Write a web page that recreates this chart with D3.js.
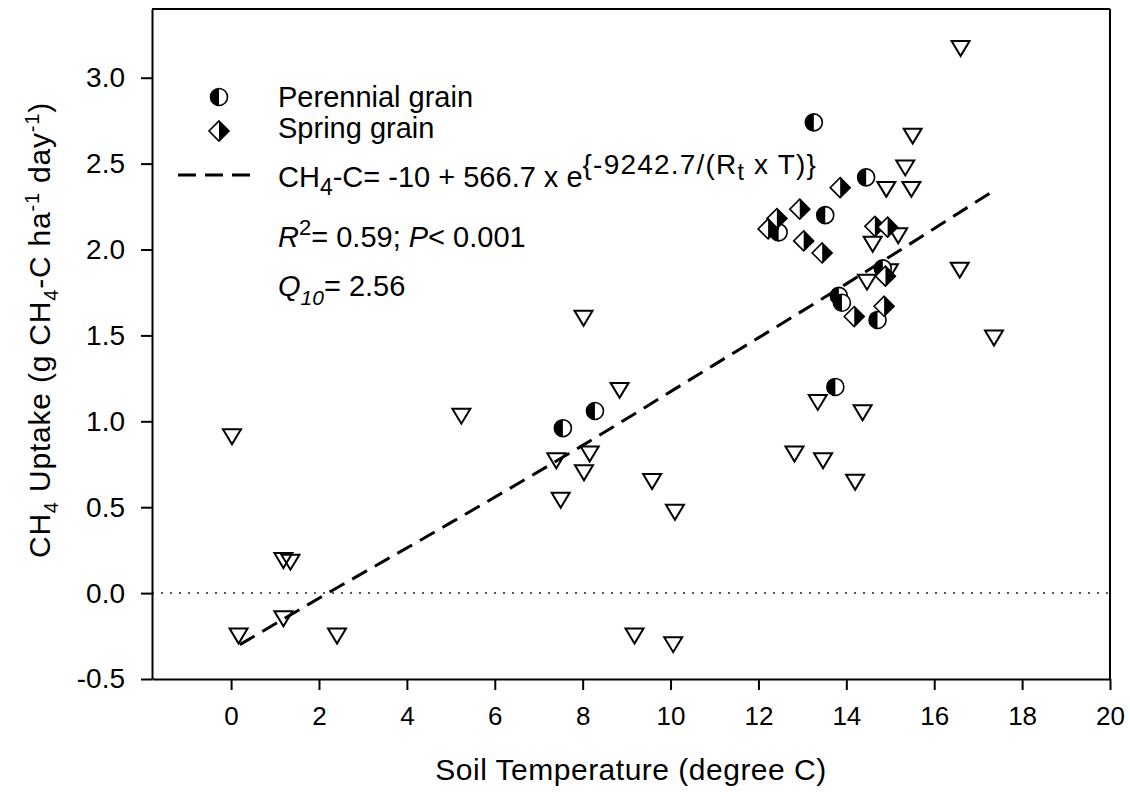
<!DOCTYPE html>
<html>
<head>
<meta charset="utf-8">
<script src="https://cdn.jsdelivr.net/npm/d3@7"></script>
<style>
body { margin: 0; background: #fff; }
svg { display: block; font-family: "Liberation Sans", Arial, sans-serif; }
.axis path, .axis line { stroke: #000; stroke-width: 2; }
.axis text { fill: #000; }
</style>
</head>
<body>
<div id="chart"></div>
<script>
// open triangles (no legend entry)
const triTemp   = [0.02, 0.17, 1.19, 1.19, 1.35, 2.41, 5.24, 7.40, 7.50, 8.02, 8.84, 8.16, 8.03, 9.58, 10.10, 9.18, 10.06,
                   12.82, 13.35, 13.47, 14.37, 14.20, 17.36, 16.60, 15.51, 15.34, 14.91, 15.48, 15.18, 14.60, 16.58, 14.97, 14.47];
const triUptake = [0.91, -0.25, -0.15, 0.19, 0.18, -0.25, 1.03, 0.77, 0.54, 1.60, 1.18, 0.81, 0.70, 0.65, 0.47, -0.25, -0.30,
                   0.81, 1.11, 0.77, 1.05, 0.645, 1.485, 3.17, 2.66, 2.475, 2.35, 2.35, 2.08, 2.03, 1.88, 1.87, 1.81];

// perennial grain
const perTemp   = [7.55, 8.28, 13.26, 14.45, 13.52, 12.46, 14.83, 13.83, 13.90, 14.71, 13.75];
const perUptake = [0.96, 1.06, 2.74, 2.42, 2.20, 2.10, 1.89, 1.73, 1.69, 1.59, 1.20];

// spring grain
const sprTemp   = [13.86, 12.94, 12.42, 12.22, 13.03, 13.45, 14.65, 14.94, 14.89, 14.18, 14.86];
const sprUptake = [2.36, 2.235, 2.18, 2.12, 2.05, 1.98, 2.135, 2.13, 1.845, 1.61, 1.67];

// fitted curve
const fitTemp   = [0.2, 2, 5, 8, 11, 14, 17.4];
const fitUptake = [-0.30, -0.03, 0.41, 0.86, 1.33, 1.80, 2.35];

const xTicks = [0, 2, 4, 6, 8, 10, 12, 14, 16, 18, 20];
const yTicks = [-0.5, 0, 0.5, 1.0, 1.5, 2.0, 2.5, 3.0];

const margin = {top: 9, right: 20, bottom: 113, left: 152};
const width = 1130 - margin.left - margin.right;
const height = 792 - margin.top - margin.bottom;

const xScale = d3.scaleLinear().domain([-1.8, 20]).range([0, width]);
const yScale = d3.scaleLinear().domain([-0.5, 3.4]).range([height, 0]);

const svg = d3.select("#chart").append("svg")
    .attr("width", 1130)
    .attr("height", 792);

const plot = svg.append("g")
    .attr("transform", `translate(${margin.left},${margin.top})`);

// zero reference line
plot.append("line")
    .attr("x1", 0).attr("x2", width)
    .attr("y1", yScale(0)).attr("y2", yScale(0))
    .attr("stroke", "#222")
    .attr("stroke-width", 1.5)
    .attr("stroke-dasharray", "2,7");

// axes
const xAxis = d3.axisBottom(xScale)
    .tickValues(xTicks)
    .tickSize(11)
    .tickSizeOuter(0)
    .tickPadding(17)
    .tickFormat(d => d);

const yAxis = d3.axisLeft(yScale)
    .tickValues(yTicks)
    .tickSize(11)
    .tickSizeOuter(0)
    .tickPadding(16)
    .tickFormat(d => d.toFixed(1));

plot.append("g")
    .attr("class", "axis x-axis")
    .attr("transform", `translate(0,${height})`)
    .call(xAxis)
    .selectAll("text")
    .style("font-size", "26px");

plot.append("g")
    .attr("class", "axis y-axis")
    .call(yAxis)
    .selectAll("text")
    .style("font-size", "28px");

// top & right frame
plot.append("line").attr("x1", 0).attr("x2", width).attr("y1", 0).attr("y2", 0)
    .attr("stroke", "#000").attr("stroke-width", 2);
plot.append("line").attr("x1", width).attr("x2", width).attr("y1", 0).attr("y2", height)
    .attr("stroke", "#000").attr("stroke-width", 2);

// rich text helper: parts = [{t, size, dy, italic, ls}]
function richText(parent, parts, size) {
    const txt = parent.append("text").style("font-size", size + "px").attr("fill", "#000");
    parts.forEach(p => {
        const ts = txt.append("tspan").text(p.t);
        if (p.size) ts.style("font-size", p.size + "px");
        if (p.dy) ts.attr("dy", p.dy);
        if (p.italic) ts.style("font-style", "italic");
        if (p.ls) ts.style("letter-spacing", p.ls + "px");
    });
    return txt;
}

// axis titles
richText(plot, [{t: "Soil Temperature (degree C)"}], 30)
    .attr("x", width / 2)
    .attr("y", height + 101)
    .attr("text-anchor", "middle")
    .style("letter-spacing", "0.5px");

const yTitle = plot.append("g")
    .attr("transform", `translate(${50 - margin.left},${330 - margin.top}) rotate(-90)`);
richText(yTitle, [
    {t: "CH"}, {t: "4", size: 20, dy: 8}, {t: " Uptake (g CH", dy: -8}, {t: "4", size: 20, dy: 8},
    {t: "-C ha", dy: -8}, {t: "-1", size: 20, dy: -11}, {t: " day", dy: 11}, {t: "-1", size: 20, dy: -11},
    {t: ")", dy: 11}
], 30)
    .attr("text-anchor", "middle")
    .style("letter-spacing", "0.8px");

// markers
const tri = "M-9,-7.5L9,-7.5L0,7.5Z";
const cr = 8.5;
const halfCircle = `M0,${-cr}A${cr},${cr} 0 0 0 0,${cr}Z`;
const dia = "M0,-10L10,0L0,10L-10,0Z";
const diaRight = "M0,-10L10,0L0,10Z";

function drawCircle(g) {
    g.append("circle").attr("r", cr).attr("fill", "#fff").attr("stroke", "#000").attr("stroke-width", 1.6);
    g.append("path").attr("d", halfCircle).attr("fill", "#000");
}
function drawDiamond(g) {
    g.append("path").attr("d", dia).attr("fill", "#fff").attr("stroke", "#000").attr("stroke-width", 1.6);
    g.append("path").attr("d", diaRight).attr("fill", "#000");
}

plot.selectAll(".tri")
    .data(triTemp.map((t, i) => [t, triUptake[i]]))
    .enter().append("path")
    .attr("class", "tri")
    .attr("transform", d => `translate(${xScale(d[0])},${yScale(d[1])})`)
    .attr("d", tri)
    .attr("fill", "none")
    .attr("stroke", "#000")
    .attr("stroke-width", 2);

plot.selectAll(".per")
    .data(perTemp.map((t, i) => [t, perUptake[i]]))
    .enter().append("g")
    .attr("class", "per")
    .attr("transform", d => `translate(${xScale(d[0])},${yScale(d[1])})`)
    .each(function() { drawCircle(d3.select(this)); });

plot.selectAll(".spr")
    .data(sprTemp.map((t, i) => [t, sprUptake[i]]))
    .enter().append("g")
    .attr("class", "spr")
    .attr("transform", d => `translate(${xScale(d[0])},${yScale(d[1])})`)
    .each(function() { drawDiamond(d3.select(this)); });

// fitted line
const line = d3.line()
    .x((d, i) => xScale(fitTemp[i]))
    .y(d => yScale(d))
    .curve(d3.curveMonotoneX);

plot.append("path")
    .datum(fitUptake)
    .attr("d", line)
    .attr("fill", "none")
    .attr("stroke", "#000")
    .attr("stroke-width", 3)
    .attr("stroke-dasharray", "17,9");

// legend & annotations (absolute coords)
const leg = svg.append("g");
drawCircle(leg.append("g").attr("transform", "translate(219,97)"));
drawDiamond(leg.append("g").attr("transform", "translate(219,131)"));
leg.append("line")
    .attr("x1", 178).attr("x2", 250).attr("y1", 175).attr("y2", 175)
    .attr("stroke", "#000").attr("stroke-width", 3).attr("stroke-dasharray", "18,9");

richText(leg, [{t: "Perennial grain"}], 29).attr("x", 278).attr("y", 107);
richText(leg, [{t: "Spring grain"}], 29).attr("x", 278).attr("y", 138);
richText(leg, [
    {t: "CH"}, {t: "4", size: 23, dy: 8}, {t: "-C= -10 + 566.7 x e", dy: -8},
    {t: "{-9242.7/(R", size: 28, dy: -13, ls: 1.2}, {t: "t", size: 23, dy: 6, ls: 1.2}, {t: " x T)}", size: 28, dy: -6, ls: 1.2}
], 29).attr("x", 278).attr("y", 187);
richText(leg, [
    {t: "R", italic: true}, {t: "2", size: 22, dy: -12}, {t: "= 0.59; ", dy: 12},
    {t: "P", italic: true}, {t: "< 0.001"}
], 29).attr("x", 278).attr("y", 247);
richText(leg, [
    {t: "Q", italic: true}, {t: "10", size: 21, dy: 9, italic: true}, {t: "= 2.56", dy: -9}
], 29).attr("x", 278).attr("y", 296);
</script>
</body>
</html>
